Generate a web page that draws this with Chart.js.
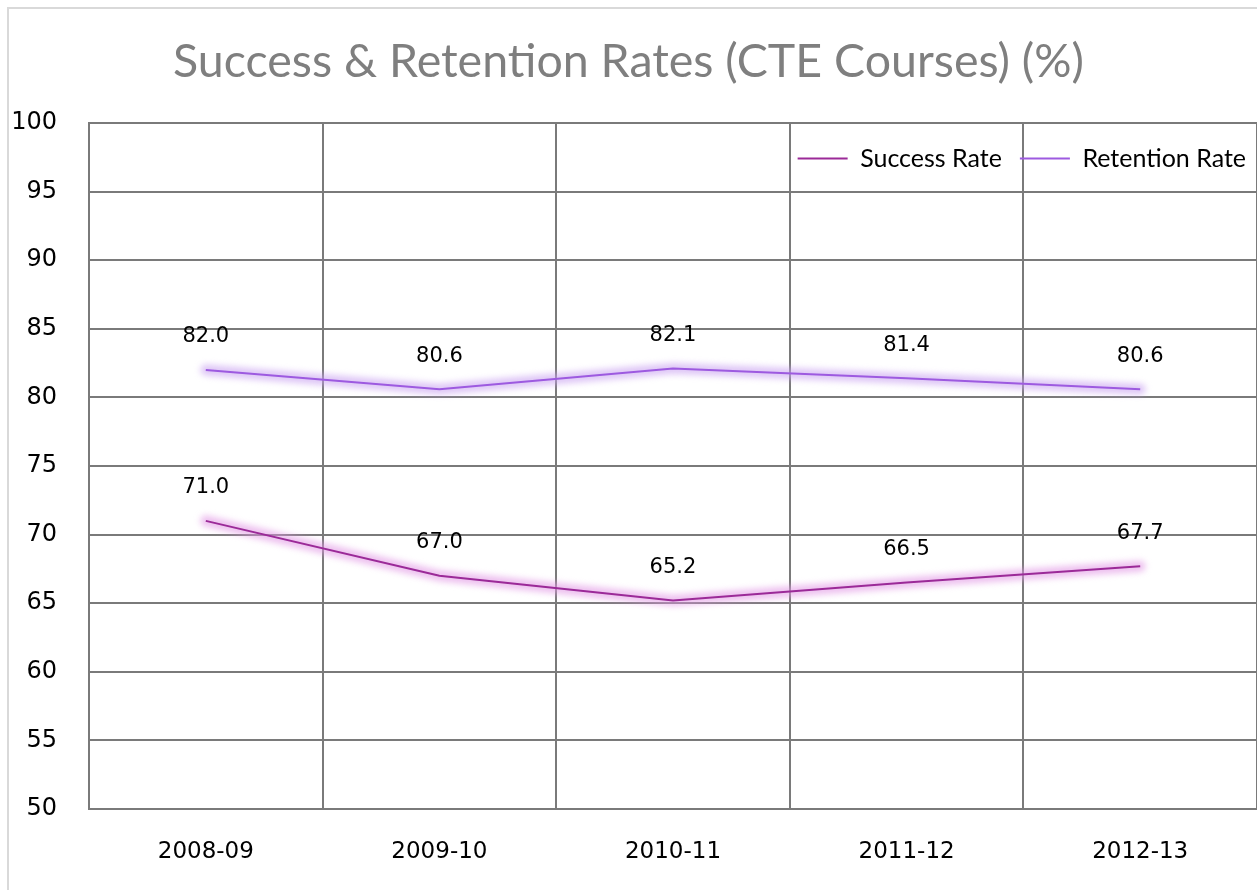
<!DOCTYPE html>
<html lang="en">
<head>
    <meta charset="UTF-8">
    <title>Success & Retention Rates (CTE Courses)</title>
    <script src="https://cdn.jsdelivr.net/npm/chart.js"></script>
    <style>
        body { margin: 0; background: #fff; overflow: hidden; }
        .wrap { position: relative; width: 1257px; height: 890px; overflow: hidden; }
        .frame { position: absolute; left: 7px; top: 7px; width: 1400px; height: 1000px; border: 2px solid #d9d9d9; }
        canvas { position: absolute; left: 0; top: 0; }
    </style>
</head>
<body>

<div class="wrap">
    <div class="frame"></div>
    <canvas id="rateChart" width="1257" height="890"></canvas>
</div>

<script>
// chart data
const years = ['2008-09', '2009-10', '2010-11', '2011-12', '2012-13'];
const successRate = [71.0, 67.0, 65.2, 66.5, 67.7];
const retentionRate = [82.0, 80.6, 82.1, 81.4, 80.6];
const yTicks = [50, 55, 60, 65, 70, 75, 80, 85, 90, 95, 100];

const textFont = 'Lato, "Open Sans", sans-serif';
const numFont = '"DejaVu Sans", sans-serif';
const gridColor = '#7a7a7a';
const glowColors = ['rgba(225, 150, 228, 0.6)', 'rgba(200, 160, 240, 0.6)'];

// soft glow under each line, drawn along the line's own points
const glowPlugin = {
    id: 'glow',
    beforeDatasetDraw(chart, args) {
        const pts = args.meta.data;
        const ctx = chart.ctx;
        ctx.save();
        ctx.filter = 'blur(3px)';
        ctx.strokeStyle = glowColors[args.index];
        ctx.lineWidth = 11;
        ctx.lineJoin = 'round';
        ctx.lineCap = 'round';
        ctx.beginPath();
        pts.forEach((p, i) => i === 0 ? ctx.moveTo(p.x, p.y) : ctx.lineTo(p.x, p.y));
        ctx.stroke();
        ctx.restore();
    }
};

// value labels over the points
const valueLabels = {
    id: 'valueLabels',
    afterDatasetsDraw(chart) {
        const ctx = chart.ctx;
        ctx.save();
        ctx.font = '21px ' + numFont;
        ctx.fillStyle = '#000';
        ctx.textAlign = 'center';
        ctx.textBaseline = 'middle';
        chart.data.datasets.forEach((ds, i) => {
            chart.getDatasetMeta(i).data.forEach((pt, j) => {
                ctx.fillText(ds.data[j].toFixed(1), pt.x, pt.y - 33);
            });
        });
        ctx.restore();
    }
};

// put the legend inside the plot, top right
const legendInside = {
    id: 'legendInside',
    afterLayout(chart) {
        const lg = chart.legend;
        const h = lg.height;
        lg.top = 128;
        lg.bottom = lg.top + h;
        lg.left += 7;
        lg.right += 7;
    }
};

const ctx = document.getElementById('rateChart').getContext('2d');
const rateChart = new Chart(ctx, {
    type: 'line',
    data: {
        labels: years,
        datasets: [{
            label: 'Success Rate',
            data: successRate,
            borderColor: '#9b2a98',
            backgroundColor: '#9b2a98',
            borderWidth: 2,
            pointRadius: 0,
            tension: 0
        }, {
            label: 'Retention Rate',
            data: retentionRate,
            borderColor: '#9d5ae0',
            backgroundColor: '#9d5ae0',
            borderWidth: 2,
            pointRadius: 0,
            tension: 0
        }]
    },
    options: {
        responsive: false,
        animation: false,
        devicePixelRatio: 1,
        layout: { padding: 0 },
        plugins: {
            title: {
                display: true,
                text: 'Success & Retention Rates (CTE Courses) (%)',
                color: '#7f7f7f',
                font: { family: textFont, size: 46.5, weight: 'normal', lineHeight: 0.344 },
                padding: { top: 54, bottom: 0 }
            },
            legend: {
                position: 'top',
                align: 'end',
                labels: {
                    color: '#000',
                    font: { family: textFont, size: 25 },
                    usePointStyle: true,
                    pointStyle: 'line',
                    pointStyleWidth: 50,
                    padding: 18
                }
            },
            tooltip: { enabled: false }
        },
        scales: {
            x: {
                offset: true,
                grid: { offset: true, color: gridColor, lineWidth: 2, drawTicks: false },
                border: { color: gridColor, width: 2 },
                ticks: { color: '#000', font: { family: numFont, size: 23 }, padding: 29 },
                afterFit(scale) { scale.height = 81; }
            },
            y: {
                min: 50,
                max: 100,
                afterBuildTicks(scale) { scale.ticks = yTicks.map(v => ({ value: v })); },
                grid: { color: gridColor, lineWidth: 2, drawTicks: false },
                border: { color: gridColor, width: 2 },
                ticks: { color: '#000', font: { family: numFont, size: 24 }, padding: 32 },
                afterFit(scale) { scale.width = 89; }
            }
        }
    },
    plugins: [glowPlugin, valueLabels, legendInside]
});
</script>
</body>
</html>
